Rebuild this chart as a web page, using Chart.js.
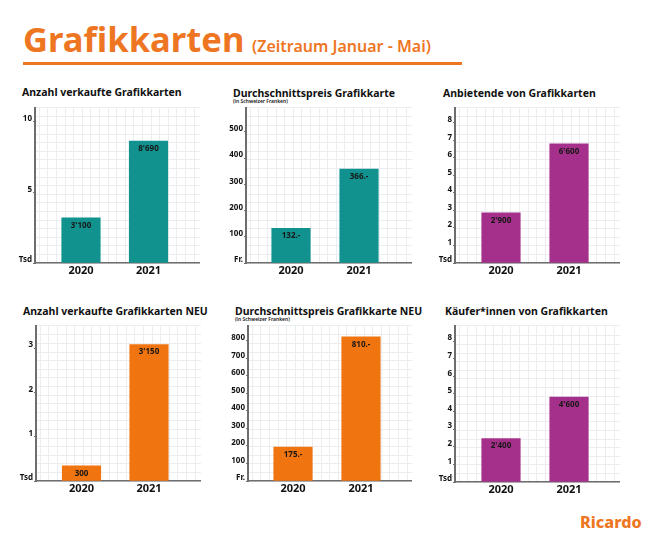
<!DOCTYPE html>
<html>
<head>
<meta charset="utf-8">
<script src="https://cdn.jsdelivr.net/npm/chart.js@4"></script>
<style>
  html, body { margin: 0; padding: 0; background: #fff; }
  body { position: relative; width: 650px; height: 541px; overflow: hidden; font-family: "Noto Sans", sans-serif; color: #111; }
  canvas { position: absolute; }
  .text { position: absolute; white-space: nowrap; }
  .head { font-weight: 700; font-size: 34.6px; color: #ee7623; left: 23px; top: 14px; line-height: 50px; }
  .range { font-weight: 600; font-size: 16px; color: #ee7623; left: 252px; top: 35px; line-height: 22px; }
  .rule { position: absolute; left: 23px; top: 62px; width: 439px; height: 3px; background: #ee7623; }
  .title { font-weight: 700; font-size: 10.5px; line-height: 14px; }
  .sub { font-weight: 600; font-size: 5px; line-height: 6px; }
  .logo { font-weight: 800; font-size: 16.2px; color: #ee7623; left: 580px; top: 510px; line-height: 24px; }
</style>
</head>
<body>
<div class="text head">Grafikkarten</div>
<div class="text range">(Zeitraum Januar - Mai)</div>
<div class="rule"></div>
<div class="text logo">Ricardo</div>

<script>
// Chart data
const years = [2020, 2021];

const titles = [
    'Anzahl verkaufte Grafikkarten',
    'Durchschnittspreis Grafikkarte',
    'Anbietende von Grafikkarten',
    'Anzahl verkaufte Grafikkarten NEU',
    'Durchschnittspreis Grafikkarte NEU',
    'Käufer*innen von Grafikkarten'
];

// Bar heights as read against each axis (the printed labels differ a little in the original)
const soldValues = [3.2, 8.64];
const priceValues = [132, 358];
const sellerValues = [2.86, 6.8];
const soldNewValues = [0.34, 3.08];
const priceNewValues = [194, 824];
const buyerValues = [2.47, 4.83];

const soldLabels = ["3'100", "8'690"];
const priceLabels = ['132.-', '366.-'];
const sellerLabels = ["2'900", "6'600"];
const soldNewLabels = ['300', "3'150"];
const priceNewLabels = ['175.-', '810.-'];
const buyerLabels = ["2'400", "4'600"];

const soldTicks = [5, 10];
const priceTicks = [100, 200, 300, 400, 500];
const countTicks = [1, 2, 3, 4, 5, 6, 7, 8];
const soldNewTicks = [1, 2, 3];
const priceNewTicks = [100, 200, 300, 400, 500, 600, 700, 800];

const teal = '#12928f';
const purple = '#a5308b';
const orange = '#f0740f';

// Layout of the six panels, in page pixels
const panels = [
    { values: soldValues, labels: soldLabels, ticks: soldTicks, unit: 'Tsd', color: teal, yMax: 11.06, axisX: 35, right: 200, top: 107, base: 263, c0: 81, c1: 148.5, titleX: 22, titleY: 85 },
    { values: priceValues, labels: priceLabels, ticks: priceTicks, unit: 'Fr.', color: teal, yMax: 595, axisX: 246, right: 412, top: 107, base: 263, c0: 291, c1: 359, titleX: 233, titleY: 86, sub: true },
    { values: sellerValues, labels: sellerLabels, ticks: countTicks, unit: 'Tsd', color: purple, yMax: 8.91, axisX: 455, right: 620, top: 107, base: 263, c0: 501, c1: 569, titleX: 443, titleY: 86 },
    { values: soldNewValues, labels: soldNewLabels, ticks: soldNewTicks, unit: 'Tsd', color: orange, yMax: 3.52, axisX: 36, right: 201, top: 325, base: 481, c0: 81.5, c1: 149, titleX: 23, titleY: 304 },
    { values: priceNewValues, labels: priceNewLabels, ticks: priceNewTicks, unit: 'Fr.', color: orange, yMax: 891, axisX: 248, right: 412, top: 325, base: 481, c0: 293, c1: 361, titleX: 235, titleY: 304, sub: true },
    { values: buyerValues, labels: buyerLabels, ticks: countTicks, unit: 'Tsd', color: purple, yMax: 8.92, axisX: 455, right: 620, top: 325, base: 482, c0: 501, c1: 569, titleX: 445, titleY: 304 }
];

const LEFT_SPACE = 35;
const BOTTOM_SPACE = 24;
const GRID_STEP = 8.6;
const axisColor = '#6e6e6e';
const gridColor = '#ecedf0';
const font = 'Noto Sans';

// Writes the value label inside the top of each bar
const barLabelPlugin = {
    id: 'barLabels',
    afterDatasetsDraw(chart, args, options) {
        const ctx = chart.ctx;
        ctx.save();
        ctx.font = `700 8px "${font}"`;
        ctx.fillStyle = '#161616';
        ctx.textAlign = 'center';
        ctx.textBaseline = 'middle';
        chart.getDatasetMeta(0).data.forEach((bar, i) => {
            ctx.fillText(options.labels[i], bar.x, bar.y + 7.5);
        });
        ctx.restore();
    }
};

function noSpace(scale) {
    scale.width = 0;
    scale.height = 0;
}

// Chart.js keeps room for half a tick label at the ends of an axis, not wanted here
function noPadding(scale) {
    scale.paddingTop = 0;
    scale.paddingBottom = 0;
    scale.paddingLeft = 0;
    scale.paddingRight = 0;
}

function addText(className, text, x, y) {
    const el = document.createElement('div');
    el.className = 'text ' + className;
    el.textContent = text;
    el.style.left = x + 'px';
    el.style.top = y + 'px';
    document.body.appendChild(el);
}

function drawPanel(panel, index) {
    addText('title', titles[index], panel.titleX, panel.titleY);
    if (panel.sub) {
        addText('sub', '(in Schweizer Franken)', panel.titleX, panel.titleY + 12);
    }

    const plotWidth = panel.right - panel.axisX;
    const plotHeight = panel.base - panel.top;

    const canvas = document.createElement('canvas');
    canvas.style.left = (panel.axisX - LEFT_SPACE) + 'px';
    canvas.style.top = panel.top + 'px';
    document.body.appendChild(canvas);
    canvas.width = plotWidth + LEFT_SPACE;
    canvas.height = plotHeight + BOTTOM_SPACE;

    // Years on a linear axis, so the bars can sit where the original has them
    const pxPerYear = panel.c1 - panel.c0;
    const xMin = years[0] - (panel.c0 - panel.axisX) / pxPerYear;
    const xMax = years[1] + (panel.right - panel.c1) / pxPerYear;

    new Chart(canvas, {
        type: 'bar',
        data: {
            datasets: [{
                data: years.map((year, i) => ({ x: year, y: panel.values[i] })),
                backgroundColor: panel.color,
                barThickness: 38.5
            }]
        },
        plugins: [barLabelPlugin],
        options: {
            responsive: false,
            animation: false,
            devicePixelRatio: 1,
            layout: { padding: 0 },
            plugins: {
                legend: { display: false },
                tooltip: { enabled: false },
                barLabels: { labels: panel.labels }
            },
            scales: {
                x: {
                    type: 'linear',
                    offset: false,
                    min: xMin,
                    max: xMax,
                    afterFit: scale => { scale.height = BOTTOM_SPACE; noPadding(scale); },
                    afterBuildTicks: scale => { scale.ticks = years.map(value => ({ value })); },
                    grid: { display: false, drawTicks: false },
                    border: { color: axisColor, width: 1.5 },
                    ticks: {
                        callback: value => String(value),
                        autoSkip: false,
                        maxRotation: 0,
                        padding: 1,
                        color: '#111',
                        font: { family: font, size: 11, weight: '700' }
                    }
                },
                y: {
                    min: 0,
                    max: panel.yMax,
                    afterFit: scale => { scale.width = LEFT_SPACE; noPadding(scale); },
                    afterBuildTicks: scale => { scale.ticks = [0].concat(panel.ticks).map(value => ({ value })); },
                    grid: { drawOnChartArea: false, tickLength: 2, tickColor: axisColor },
                    border: { color: axisColor, width: 2 },
                    ticks: {
                        callback: value => value === 0 ? panel.unit : String(value),
                        autoSkip: false,
                        padding: 1,
                        labelOffset: -3,
                        color: '#111',
                        font: { family: font, size: 8, weight: '700' }
                    }
                },
                // Background squares, these two axes only draw grid lines
                gridX: {
                    type: 'linear',
                    axis: 'x',
                    position: 'top',
                    offset: false,
                    min: 0,
                    max: plotWidth / GRID_STEP,
                    afterFit: noSpace,
                    ticks: { display: false, stepSize: 1 },
                    grid: { color: gridColor, drawTicks: false },
                    border: { display: false }
                },
                gridY: {
                    type: 'linear',
                    axis: 'y',
                    position: 'right',
                    min: 0,
                    max: plotHeight / GRID_STEP,
                    afterFit: noSpace,
                    ticks: { display: false, stepSize: 1 },
                    grid: { color: gridColor, drawTicks: false },
                    border: { display: false }
                }
            }
        }
    });
}

panels.forEach(drawPanel);
</script>
</body>
</html>
